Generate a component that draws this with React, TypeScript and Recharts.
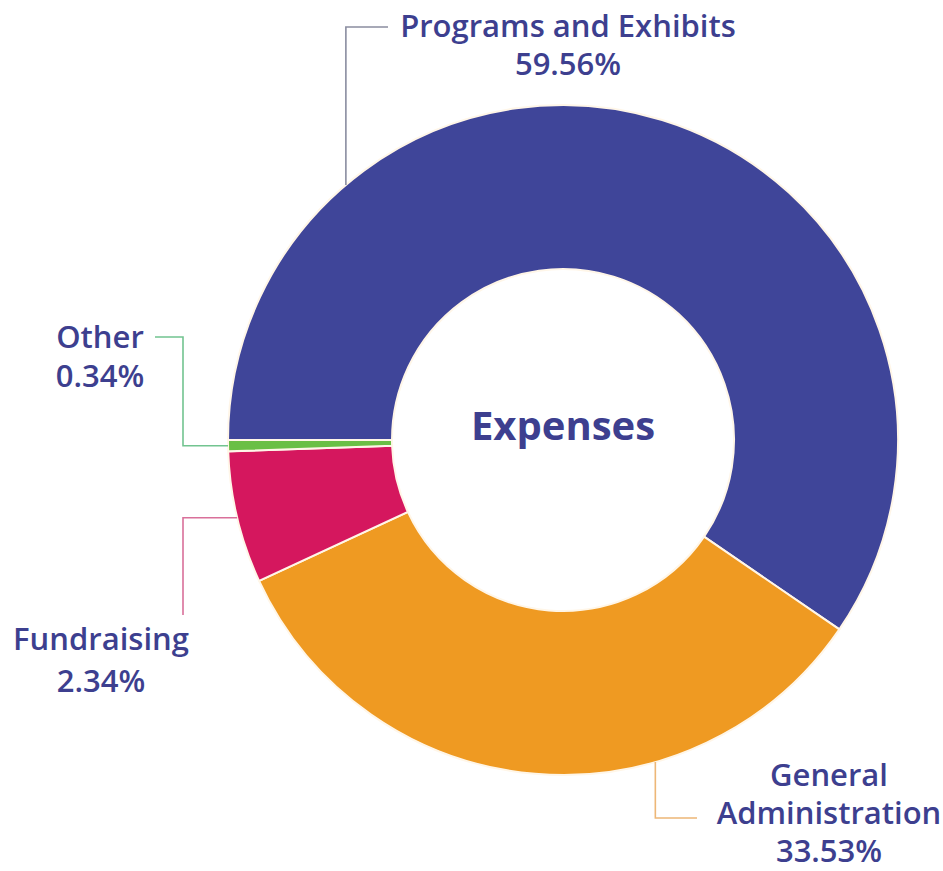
import React from 'react';
import { PieChart, Pie, Cell } from 'recharts';

const categories = ['Programs and Exhibits', 'General Administration', 'Fundraising', 'Other'];
const shares = [59.56, 33.53, 6.37, 0.54];
// percentages as printed in the callouts
const printedLabels = ['59.56%', '33.53%', '2.34%', '0.34%'];
const labelLines = [
  ['Programs and Exhibits'],
  ['General', 'Administration'],
  ['Fundraising'],
  ['Other'],
];
const centerTitle = 'Expenses';
const colors = ['#3F4599', '#EF9A22', '#D5175E', '#6ABF45'];
const lineColors = ['#8A8DA0', '#EDB777', '#D9709A', '#72C490'];

const data = categories.map((name, i) => ({ name, value: shares[i] }));

const TEXT = '#3D3F8F';
const FONT = '"Open Sans", sans-serif';

// callout layout: where the leader leaves the ring and where the text sits
const callouts = [
  { angle: 130.4, path: 'vUp', elbow: 27, end: 388, tx: 568, ty: [37, 75] },
  { angle: -74, path: 'vDown', elbow: 818, end: 697, tx: 829, ty: [786, 824, 862] },
  { angle: null, path: 'hDown', elbow: 183, end: 615, tx: 101, ty: [650, 692] },
  { angle: null, path: 'hUp', elbow: 183, end: 337, tx: 100, ty: [348, 387], tail: 155 },
];

const RAD = Math.PI / 180;

function renderCallout(props: any) {
  const { cx, cy, outerRadius, midAngle, index } = props;
  const c = callouts[index];
  const a = c.angle ?? midAngle;
  const px = cx + outerRadius * Math.cos(a * RAD);
  const py = cy - outerRadius * Math.sin(a * RAD);
  let d = '';
  if (c.path === 'vUp' || c.path === 'vDown') {
    d = `M${px},${py} V${c.elbow} H${c.end}`;
  } else if (c.path === 'hDown') {
    d = `M${px},${py} H${c.elbow} V${c.end}`;
  } else {
    d = `M${px},${py} H${c.elbow} V${c.end} H${c.tail}`;
  }
  const lines = [...labelLines[index], printedLabels[index]];
  return (
    <g key={`callout-${index}`}>
      <path d={d} stroke={lineColors[index]} strokeWidth={1.6} fill="none" />
      {lines.map((t, i) => (
        <text
          key={i}
          x={c.tx}
          y={c.ty[i]}
          textAnchor="middle"
          fill={TEXT}
          fontFamily={FONT}
          fontWeight={600}
          fontSize={31}
        >
          {t}
        </text>
      ))}
      {index === 0 && (
        <text
          x={cx}
          y={cy}
          textAnchor="middle"
          fill={TEXT}
          fontFamily={FONT}
          fontWeight={700}
          fontSize={40}
        >
          {centerTitle}
        </text>
      )}
    </g>
  );
}

export default function App() {
  return (
    <div style={{ position: 'absolute', left: 0, top: 0, background: '#fff' }}>
      <PieChart width={943} height={871}>
        <Pie
          data={data}
          dataKey="value"
          nameKey="name"
          cx={558}
          cy={435}
          innerRadius={171}
          outerRadius={335}
          startAngle={180}
          endAngle={-180}
          stroke="#FFF6E8"
          strokeWidth={2}
          label={renderCallout}
          labelLine={false}
          isAnimationActive={false}
        >
          {data.map((d, i) => (
            <Cell key={d.name} fill={colors[i]} />
          ))}
        </Pie>
      </PieChart>
    </div>
  );
}
